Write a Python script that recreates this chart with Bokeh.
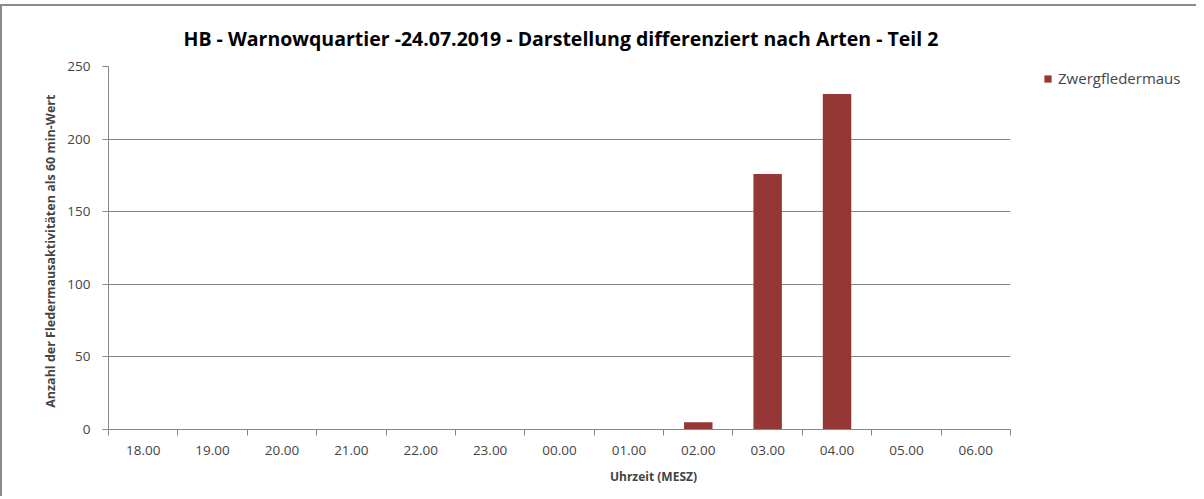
from bokeh.plotting import figure
from bokeh.models import (ColumnDataSource, FixedTicker, Range1d, Legend, LegendItem)
from bokeh.embed import file_html
from bokeh.resources import INLINE

hours = ["18.00", "19.00", "20.00", "21.00", "22.00", "23.00", "00.00",
         "01.00", "02.00", "03.00", "04.00", "05.00", "06.00"]
zwergfledermaus = [0, 0, 0, 0, 0, 0, 0, 0, 5, 176, 231, 0, 0]
y_ticks = [0, 50, 100, 150, 200, 250]

title_text = "HB - Warnowquartier -24.07.2019 - Darstellung differenziert nach Arten - Teil 2"
series_name = "Zwergfledermaus"
x_label = "Uhrzeit (MESZ)"
y_label = "Anzahl der  Fledermausaktivitäten  als 60 min-Wert"

FONT = "Open Sans"
BAR = "#953735"
GRID = "#878787"

W, H = 1196, 492
LEFT, TOP, BOTTOM = 106, 60, 69
AXIS_W = 902           # pixel width of the category axis
n = len(hours)
frame_w = W - LEFT
x_end = n * frame_w / AXIS_W   # frame extends to the right to host the legend

x_pos = [i + 0.5 for i in range(n)]
src = ColumnDataSource(dict(x=x_pos, y=zwergfledermaus, label=hours))

p = figure(width=W, height=H, output_backend="svg", toolbar_location=None,
           x_range=Range1d(0, x_end), y_range=Range1d(0, 250),
           min_border_left=LEFT, min_border_right=0, min_border_top=TOP,
           min_border_bottom=BOTTOM)
p.styles = {"border-left": "2px solid #8c8c8c", "border-top": "2px solid #8c8c8c",
            "margin-top": "4px"}

r = p.vbar(x="x", top="y", width=0.41, source=src, fill_color=BAR, line_color=None)

p.title.text = title_text
p.title.align = "left"
p.title.offset = 75
p.title.text_font = FONT
p.title.text_font_size = "19.5px"
p.title.text_font_style = "bold"
p.title.text_color = "#000000"
p.title.standoff = 30

p.outline_line_color = None
p.xgrid.grid_line_color = None
p.ygrid.grid_line_color = GRID
p.ygrid.grid_line_width = 1
p.ygrid.ticker = FixedTicker(ticks=y_ticks)
p.ygrid.cross_bounds = (0, n)

xa = p.xaxis[0]
xa.bounds = (0, n)
xa.ticker = FixedTicker(ticks=x_pos, minor_ticks=list(range(n + 1)))
xa.major_label_overrides = {x: h for x, h in zip(x_pos, hours)}
xa.major_tick_line_color = None
xa.minor_tick_line_color = GRID
xa.minor_tick_out = 6
xa.minor_tick_in = 0
xa.axis_line_color = GRID
xa.major_label_text_font = FONT
xa.major_label_text_font_size = "13.5px"
xa.major_label_standoff = 10
xa.axis_label = x_label
xa.axis_label_text_font = FONT
xa.axis_label_text_font_size = "12px"
xa.axis_label_text_font_style = "bold"
xa.axis_label_standoff = 10

ya = p.yaxis[0]
ya.ticker = FixedTicker(ticks=y_ticks)
ya.axis_line_color = GRID
ya.major_tick_line_color = GRID
ya.major_tick_out = 6
ya.major_tick_in = 0
ya.minor_tick_line_color = None
ya.major_label_text_font = FONT
ya.major_label_text_font_size = "13.5px"
ya.major_label_standoff = 12
ya.axis_label = y_label
ya.axis_label_text_font = FONT
ya.axis_label_text_font_size = "12.5px"
ya.axis_label_text_font_style = "bold"
ya.axis_label_standoff = 5

legend = Legend(items=[LegendItem(label=series_name, renderers=[r])],
                location=(935, 341), border_line_color=None, background_fill_alpha=0,
                glyph_width=9, glyph_height=9, label_text_font=FONT,
                label_text_font_size="15px", spacing=0, padding=0, margin=0,
                label_standoff=6, label_height=14)
p.add_layout(legend)

open("out.html", "w").write(file_html(p, INLINE))
